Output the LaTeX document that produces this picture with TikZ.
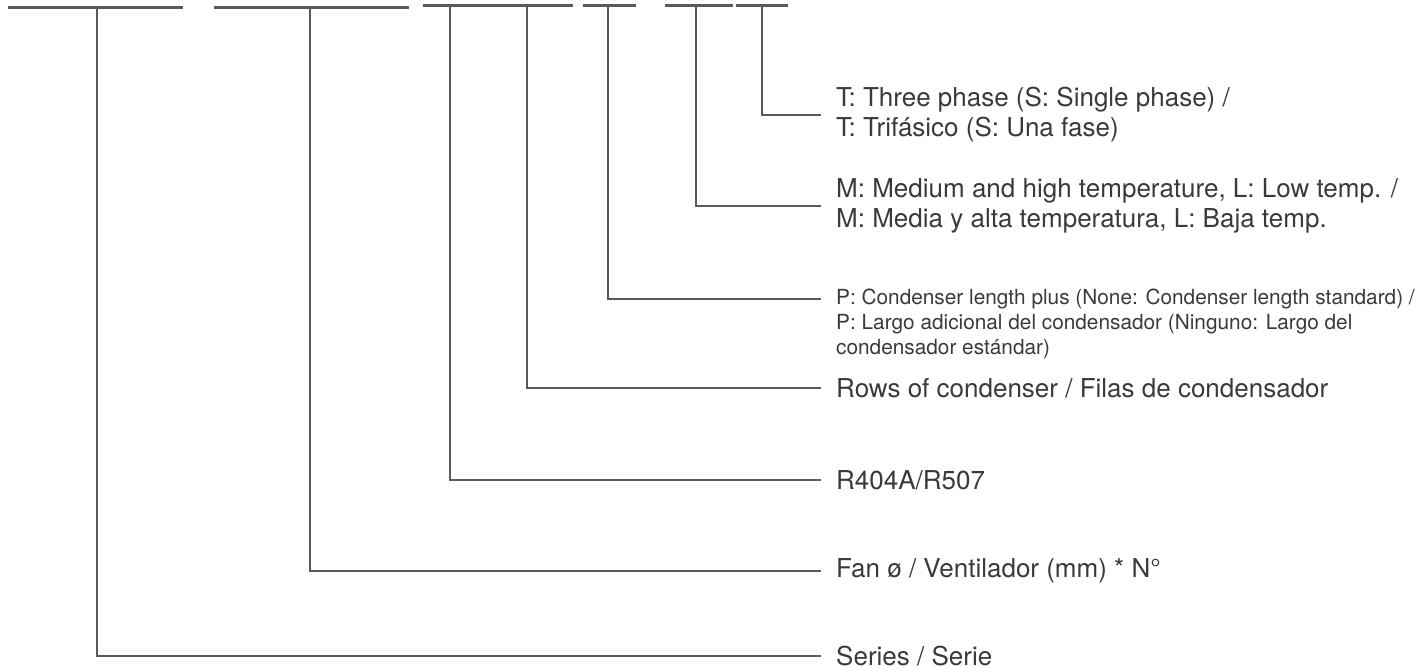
\documentclass[tikz,border=0pt]{standalone}
\usepackage{fontspec}
\setmainfont{TeX Gyre Heros}
\definecolor{linec}{HTML}{575B5F}
\definecolor{textc}{HTML}{3A3A3A}
\begin{document}
\begin{tikzpicture}[x=1pt,y=-1pt,
  bar/.style={line width=3pt,draw=linec},
  conn/.style={line width=2pt,draw=linec},
  lbl/.style={anchor=west,inner sep=0pt,text=textc,align=left,font=\fontsize{26}{30}\selectfont},
  lblsmall/.style={anchor=west,inner sep=0pt,text=textc,align=left,font=\fontsize{20.8}{25}\selectfont}]
\useasboundingbox (0,0) rectangle (1426,669);
% top bars
\coordinate (b1l) at (8,7.5);   \coordinate (b1r) at (183,7.5);
\coordinate (b2l) at (214,7.5); \coordinate (b2r) at (409,7.5);
\coordinate (b3l) at (423,6);   \coordinate (b3r) at (573,6);
\coordinate (b4l) at (583,6);   \coordinate (b4r) at (636,6);
\coordinate (b5l) at (665,6);   \coordinate (b5r) at (733,6);
\coordinate (b6l) at (736,6);   \coordinate (b6r) at (788,6);
\draw[bar] (b1l) -- (b1r);
\draw[bar] (b2l) -- (b2r);
\draw[bar] (b3l) -- (b3r);
\draw[bar] (b4l) -- (b4r);
\draw[bar] (b5l) -- (b5r);
\draw[bar] (b6l) -- (b6r);
% connector tops
\coordinate (tS) at (97,7.5);
\coordinate (tF) at (310,7.5);
\coordinate (tR) at (450,6);
\coordinate (tW) at (527,6);
\coordinate (tP) at (608,6);
\coordinate (tM) at (696,6);
\coordinate (tT) at (762,6);
% connector ends
\coordinate (eS) at (821,656);
\coordinate (eF) at (821,571);
\coordinate (eR) at (821,480);
\coordinate (eW) at (821,388);
\coordinate (eP) at (821,299);
\coordinate (eM) at (821,206);
\coordinate (eT) at (821,115);
% labels
\node[lbl] (lS) at (836,656) {Series / Serie};
\node[lbl] (lF) at (836,571) {Fan ø / Ventilador (mm) * N°};
\node[lbl] (lR) at (836,480) {R404A/R507};
\node[lbl] (lW) at (836,388) {Rows of condenser / Filas de condensador};
\node[lblsmall] (lP) at (836,324) {P: Condenser length plus (None: Condenser length standard) /\\P: Largo adicional del condensador (Ninguno: Largo del\\condensador estándar)};
\node[lbl] (lM) at (836,206) {M: Medium and high temperature, L: Low temp. /\\M: Media y alta temperatura, L: Baja temp.};
\node[lbl] (lT) at (836,115) {T: Three phase (S: Single phase) /\\T: Trifásico (S: Una fase)};
% connectors
\draw[conn] (tS) |- (eS);
\draw[conn] (tF) |- (eF);
\draw[conn] (tR) |- (eR);
\draw[conn] (tW) |- (eW);
\draw[conn] (tP) |- (eP);
\draw[conn] (tM) |- (eM);
\draw[conn] (tT) |- (eT);
\end{tikzpicture}
\end{document}
